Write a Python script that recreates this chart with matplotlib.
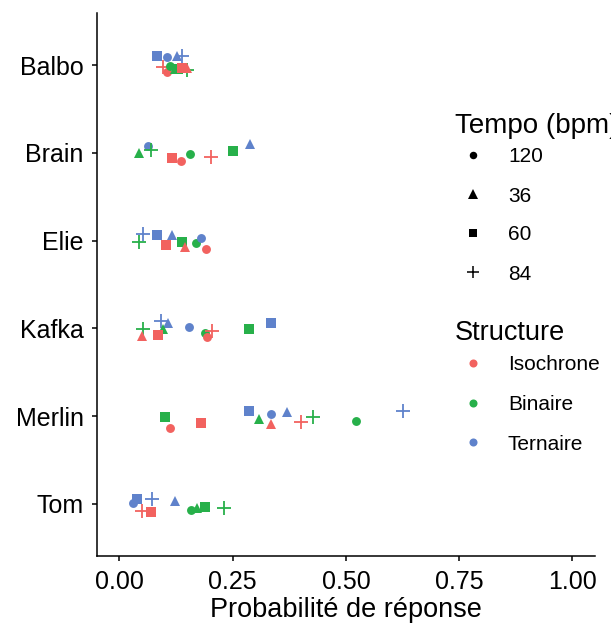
import matplotlib
matplotlib.use("Agg")
import matplotlib.pyplot as plt

plt.rcParams['font.family'] = ['Liberation Sans', 'DejaVu Sans']

subjects = ["Balbo", "Brain", "Elie", "Kafka", "Merlin", "Tom"]
structures = ["Isochrone", "Binaire", "Ternaire"]
structure_colors = ["#F2625F", "#27B04A", "#5F82CB"]
tempos = ["120", "36", "60", "84"]
tempo_markers = ["o", "^", "s", "+"]
x_ticks = [0.0, 0.25, 0.5, 0.75, 1.0]
x_tick_labels = ["0.00", "0.25", "0.50", "0.75", "1.00"]

# one entry per point: subject, structure, tempo, probability, vertical jitter
pt_subject = (["Balbo"] * 12 + ["Brain"] * 9 + ["Elie"] * 10 + ["Kafka"] * 12
              + ["Merlin"] * 12 + ["Tom"] * 10)
pt_structure = [
    # Balbo
    "Ternaire", "Ternaire", "Ternaire", "Ternaire", "Isochrone", "Isochrone",
    "Binaire", "Binaire", "Binaire", "Binaire", "Isochrone", "Isochrone",
    # Brain
    "Binaire", "Ternaire", "Binaire", "Isochrone", "Isochrone", "Binaire",
    "Isochrone", "Binaire", "Ternaire",
    # Elie
    "Ternaire", "Binaire", "Ternaire", "Ternaire", "Isochrone", "Binaire",
    "Isochrone", "Binaire", "Ternaire", "Isochrone",
    # Kafka
    "Binaire", "Isochrone", "Ternaire", "Ternaire", "Binaire", "Isochrone",
    "Ternaire", "Binaire", "Isochrone", "Isochrone", "Binaire", "Ternaire",
    # Merlin
    "Binaire", "Isochrone", "Isochrone", "Ternaire", "Binaire", "Ternaire",
    "Isochrone", "Ternaire", "Isochrone", "Binaire", "Binaire", "Ternaire",
    # Tom
    "Ternaire", "Ternaire", "Ternaire", "Isochrone", "Isochrone", "Ternaire",
    "Binaire", "Binaire", "Binaire", "Binaire",
]
pt_tempo = [
    # Balbo
    "60", "120", "36", "84", "84", "120", "120", "36", "60", "84", "60", "36",
    # Brain
    "36", "120", "84", "60", "120", "120", "84", "60", "36",
    # Elie
    "84", "84", "60", "36", "60", "60", "36", "120", "120", "120",
    # Kafka
    "84", "36", "84", "36", "36", "60", "120", "120", "84", "120", "60", "60",
    # Merlin
    "60", "120", "60", "60", "36", "120", "36", "36", "84", "84", "120", "84",
    # Tom
    "120", "60", "84", "84", "60", "36", "120", "36", "60", "84",
]
pt_prob = [
    # Balbo
    0.082, 0.104, 0.126, 0.139, 0.095, 0.104, 0.111, 0.122, 0.130, 0.150, 0.137, 0.148,
    # Brain
    0.044, 0.062, 0.069, 0.117, 0.135, 0.155, 0.201, 0.250, 0.288,
    # Elie
    0.051, 0.044, 0.082, 0.117, 0.102, 0.137, 0.144, 0.168, 0.179, 0.190,
    # Kafka
    0.051, 0.049, 0.091, 0.108, 0.097, 0.084, 0.153, 0.188, 0.204, 0.193, 0.285, 0.334,
    # Merlin
    0.100, 0.112, 0.181, 0.285, 0.308, 0.334, 0.334, 0.369, 0.400, 0.427, 0.522, 0.626,
    # Tom
    0.029, 0.038, 0.071, 0.049, 0.069, 0.122, 0.159, 0.172, 0.188, 0.230,
]
pt_jitter = [
    # Balbo
    -0.10, -0.09, -0.10, -0.10, 0.02, 0.08, 0.01, 0.04, 0.04, 0.05, 0.03, 0.03,
    # Brain
    0.00, -0.08, -0.03, 0.06, 0.09, 0.01, 0.05, -0.02, -0.10,
    # Elie
    -0.08, 0.02, -0.07, -0.06, 0.05, 0.02, 0.07, 0.03, -0.03, 0.09,
    # Kafka
    0.01, 0.09, -0.08, -0.06, 0.01, 0.08, -0.02, 0.05, 0.03, 0.10, 0.01, -0.06,
    # Merlin
    0.01, 0.13, 0.08, -0.06, 0.03, -0.02, 0.09, -0.05, 0.07, 0.01, 0.05, -0.06,
    # Tom
    -0.01, -0.05, -0.05, 0.08, 0.09, -0.03, 0.07, 0.05, 0.04, 0.05,
]

marker_size = {"o": 6.4, "^": 7.8, "s": 6.5, "+": 10.5}

fig = plt.figure(figsize=(6.11, 6.28), dpi=100)
ax = fig.add_axes([0.1585, 0.1139, 0.8153, 0.866])

for subj, struct, tempo, prob, jit in zip(pt_subject, pt_structure, pt_tempo, pt_prob, pt_jitter):
    y = subjects.index(subj) + jit
    col = structure_colors[structures.index(struct)]
    m = tempo_markers[tempos.index(tempo)]
    if m == "+":
        ax.plot(prob, y, linestyle="none", marker=m, markersize=marker_size[m],
                markeredgewidth=1.3, color=col)
    else:
        ax.plot(prob, y, linestyle="none", marker=m, markersize=marker_size[m],
                markeredgewidth=0, color=col)

ax.set_xlim(-0.05, 1.05)
ax.set_ylim(len(subjects) - 0.4, -0.6)
ax.set_yticks(range(len(subjects)))
ax.set_yticklabels(subjects)
ax.set_xticks(x_ticks)
ax.set_xticklabels(x_tick_labels)
for s in ["top", "right"]:
    ax.spines[s].set_visible(False)
for s in ["left", "bottom"]:
    ax.spines[s].set_linewidth(1.1)
ax.tick_params(axis="both", length=3.6, width=1.1, labelsize=18, colors="black")
ax.tick_params(axis="x", pad=6.5)
ax.tick_params(axis="y", pad=6.0)
ax.set_xlabel("Probabilité de réponse", fontsize=19.5, labelpad=2)

# legends drawn in figure pixel space
lg = fig.add_axes([0, 0, 1, 1], facecolor="none")
lg.set_xlim(0, 611)
lg.set_ylim(628, 0)
lg.axis("off")

lg.text(455, 133, "Tempo (bpm)", fontsize=20, va="baseline", ha="left", clip_on=False)
tempo_rows = [155, 194, 233, 272]
legend_msize = {"o": 5.4, "^": 6.6, "s": 5.6, "+": 9.0}
for t, m, yy in zip(tempos, tempo_markers, tempo_rows):
    lg.plot(473, yy, linestyle="none", marker=m, markersize=legend_msize[m],
            markeredgewidth=(1.1 if m == "+" else 0), color="black")
    lg.text(508, yy, t, fontsize=15, va="center_baseline", ha="left")

lg.text(455, 340, "Structure", fontsize=19.5, va="baseline", ha="left")
struct_rows = [363, 403, 442]
for s, c, yy in zip(structures, structure_colors, struct_rows):
    lg.plot(473, yy, linestyle="none", marker="o", markersize=5.8,
            markeredgewidth=0, color=c)
    lg.text(508, yy, s, fontsize=15, va="center_baseline", ha="left")

fig.savefig("out.png", dpi=100)
